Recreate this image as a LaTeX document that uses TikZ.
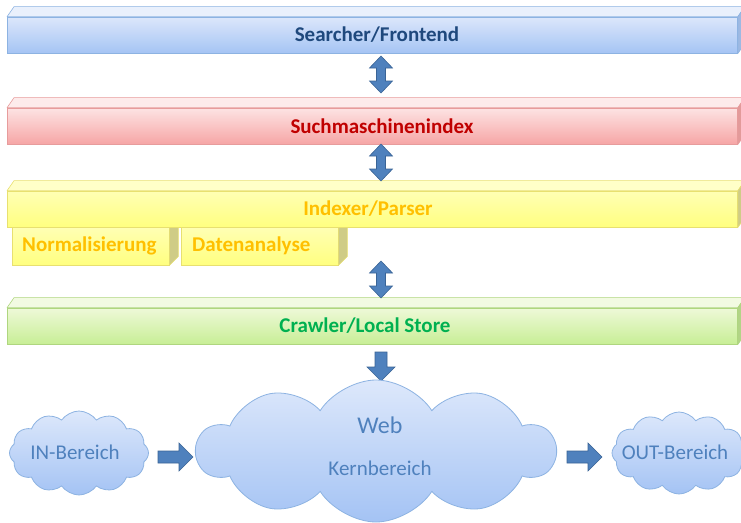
\documentclass[tikz,border=0pt]{standalone}
\usepackage{fontspec}
\setmainfont{Carlito}
\usetikzlibrary{shapes.symbols,calc}
\definecolor{bluetop}{HTML}{DCE7FB}
\definecolor{bluebot}{HTML}{A5C4F4}
\definecolor{blueface}{HTML}{E9F0FC}
\definecolor{blueside}{HTML}{9DB9E3}
\definecolor{blueline}{HTML}{8DB3E2}
\definecolor{bluetext}{HTML}{1F497D}
\definecolor{redtop}{HTML}{FDE3E3}
\definecolor{redbot}{HTML}{F6A6A6}
\definecolor{redface}{HTML}{FDEBEB}
\definecolor{redside}{HTML}{E39A9A}
\definecolor{redline}{HTML}{E79C9C}
\definecolor{redtext}{HTML}{C00000}
\definecolor{yeltop}{HTML}{FFFFB4}
\definecolor{yelbot}{HTML}{FFFF80}
\definecolor{yelface}{HTML}{FFFFC8}
\definecolor{yelside}{HTML}{CFCC86}
\definecolor{yelline}{HTML}{E8E070}
\definecolor{yeltext}{HTML}{FFC000}
\definecolor{grntop}{HTML}{EEF9D8}
\definecolor{grnbot}{HTML}{C8EE96}
\definecolor{grnface}{HTML}{F2FAE2}
\definecolor{grnside}{HTML}{B2D486}
\definecolor{grnline}{HTML}{AFD67F}
\definecolor{grntext}{HTML}{00B050}
\definecolor{cloudtop}{HTML}{DDE8FB}
\definecolor{cloudbot}{HTML}{A4C3F4}
\definecolor{cloudline}{HTML}{8DB3E2}
\definecolor{cloudtext}{HTML}{4F81BD}
\definecolor{arrowfill}{HTML}{4F81BD}
\definecolor{arrowline}{HTML}{3A6496}
\newcommand\slabfaces[4]{%
  \filldraw[fill=#2, draw=#4, line width=0.6pt, line join=round] (#1.north west) -- ++(7,-10) -- ($(#1.north east)+(7,-10)$) -- (#1.north east) -- cycle;
  \filldraw[fill=#3, draw=#4, line width=0.6pt, line join=round] (#1.north east) -- ++(7,-10) -- ($(#1.south east)+(7,-10)$) -- (#1.south east) -- cycle;
}
\newcommand\subside[3]{%
  \filldraw[fill=#2, draw=#3, line width=0.6pt, line join=round] (#1.north east) -- ++(9,-9) -- ($(#1.south east)+(9,-9)$) -- (#1.south east) -- cycle;
}
\begin{document}
\begin{tikzpicture}[x=1pt,y=-1pt,
  slab/.style={rectangle, inner sep=0pt, minimum width=730, minimum height=36, line width=0.8pt},
  subbox/.style={rectangle, inner sep=0pt, minimum width=157, minimum height=38, line width=0.8pt, top color=yeltop, bottom color=yelbot, draw=yelline},
  bartext/.style={font=\fontsize{21}{25}\selectfont\bfseries, inner sep=0pt},
  cloudbox/.style={cloud, draw=cloudline, line width=0.8pt, top color=cloudtop, bottom color=cloudbot, inner sep=0pt},
  cloudlabel/.style={text=cloudtext, font=\fontsize{21}{25}\selectfont, inner sep=0pt},
  blockarrow/.style={fill=arrowfill, draw=arrowline, line width=0.6pt, line join=miter},
  updown/.pic={\filldraw[blockarrow] (0,-18.5) -- (11.5,-6.5) -- (4.5,-6.5) -- (4.5,6.5) -- (11.5,6.5) -- (0,18.5) -- (-11.5,6.5) -- (-4.5,6.5) -- (-4.5,-6.5) -- (-11.5,-6.5) -- cycle;}
]
\useasboundingbox (0,0) rectangle (741,522);
\fill[white] (0,0) rectangle (741,522);

% Searcher bar
\node[slab, top color=bluetop, bottom color=bluebot, draw=blueline] (searcher) at (372.5,35) {};
\slabfaces{searcher}{blueface}{blueside}{blueline}
\node[bartext, text=bluetext] (searchertxt) at (377,35) {Searcher/Frontend};

% Suchmaschinenindex bar
\node[slab, top color=redtop, bottom color=redbot, draw=redline] (index) at (372.5,126) {};
\slabfaces{index}{redface}{redside}{redline}
\node[bartext, text=redtext] (indextxt) at (382,126) {Suchmaschinenindex};

% sub boxes (behind indexer bar)
\node[subbox] (norm) at (90.5,246) {};
\subside{norm}{yelside}{yelline}
\node[subbox] (daten) at (259.5,246) {};
\subside{daten}{yelside}{yelline}
\node[bartext, text=yeltext, anchor=west] (normtxt) at (22,246) {Normalisierung};
\node[bartext, text=yeltext, anchor=west] (datentxt) at (192,246) {Datenanalyse};

% Indexer bar
\node[slab, top color=yeltop, bottom color=yelbot, draw=yelline] (parser) at (372.5,209) {};
\slabfaces{parser}{yelface}{yelside}{yelline}
\node[bartext, text=yeltext] (parsertxt) at (368,209) {Indexer/Parser};

% Crawler bar
\node[slab, top color=grntop, bottom color=grnbot, draw=grnline] (crawler) at (372.5,326) {};
\slabfaces{crawler}{grnface}{grnside}{grnline}
\node[bartext, text=grntext] (crawlertxt) at (365,326) {Crawler/Local Store};

% double arrows
\pic (da1) at (381,74.5) {updown};
\pic (da2) at (381,162.5) {updown};
\pic (da3) at (381,279.5) {updown};

% down arrow
\filldraw[blockarrow] (375,352) -- (387,352) -- (387,367) -- (395,367) -- (381,381) -- (367,367) -- (375,367) -- cycle;

% clouds
\node[cloudbox, cloud puffs=12, cloud puff arc=110, aspect=1.67, minimum width=139, minimum height=84] (incloud) at (79,453) {};
\node[cloudbox, cloud puffs=10, cloud puff arc=115, aspect=2.5, minimum width=358, minimum height=142] (webcloud) at (376,451) {};
\node[cloudbox, cloud puffs=12, cloud puff arc=110, aspect=1.65, minimum width=134, minimum height=82] (outcloud) at (679,453) {};
\node[cloudlabel] (intxt) at (75,452) {IN-Bereich};
\node[cloudlabel, font=\fontsize{24}{28}\selectfont] (webtxt) at (380,425) {Web};
\node[cloudlabel] (kerntxt) at (380,468) {Kernbereich};
\node[cloudlabel] (outtxt) at (675,452) {OUT-Bereich};

% right arrows
\filldraw[blockarrow] (158,451) -- (179,451) -- (179,443) -- (193,457) -- (179,471) -- (179,463) -- (158,463) -- cycle;
\filldraw[blockarrow] (567,451) -- (588,451) -- (588,443) -- (602,457) -- (588,471) -- (588,463) -- (567,463) -- cycle;
\end{tikzpicture}
\end{document}
